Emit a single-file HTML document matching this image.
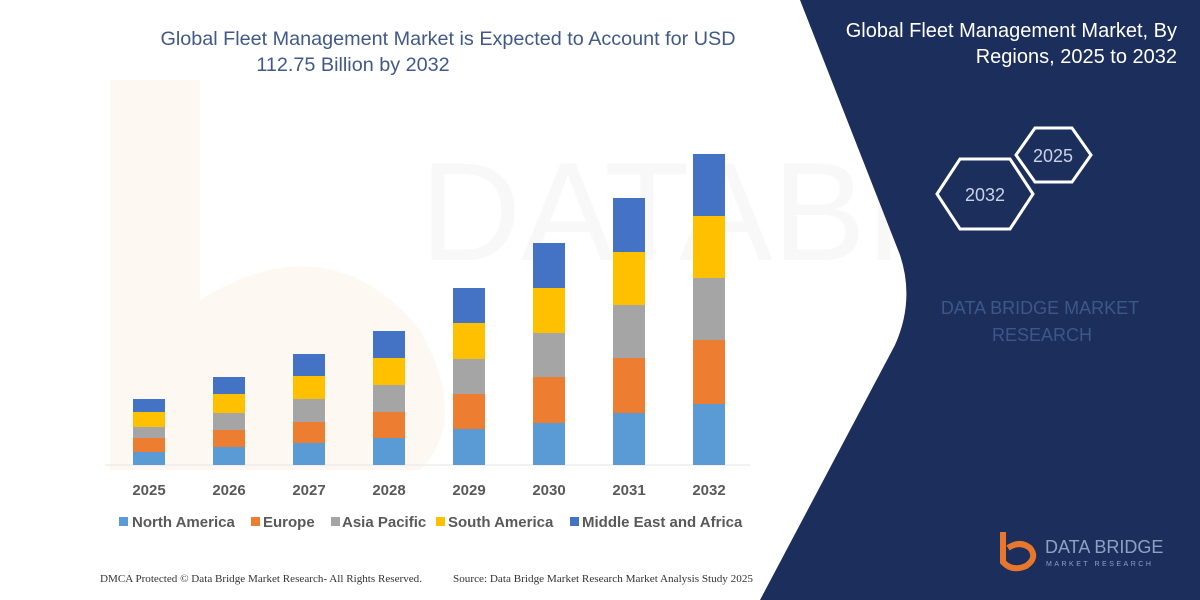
<!DOCTYPE html>
<html><head><meta charset="utf-8"><style>
html,body{margin:0;padding:0;width:1200px;height:600px;overflow:hidden;background:#fff}
svg{display:block}
</style></head><body>
<svg width="1200" height="600" viewBox="0 0 1200 600" xmlns="http://www.w3.org/2000/svg" font-family="'Liberation Sans',sans-serif">
<rect width="1200" height="600" fill="#fff"/>
<!-- faint watermark -->
<path d="M110 80 L200 80 L200 300 Q330 220 420 330 Q470 420 420 470 L110 470 Z" fill="#fef8f3"/>
<text x="420" y="260" font-size="140" fill="#f8f8f8" font-family="'Liberation Sans Narrow','Liberation Sans',sans-serif">DATABRIDGE</text>
<!-- navy panel -->
<path d="M800 0 L1200 0 L1200 600 L760 600 L895 345 Q915 300 900 255 Z" fill="#1c2e5c"/>
<text x="1040" y="314" font-size="18" fill="#3d5788" text-anchor="middle">DATA BRIDGE MARKET</text>
<text x="1042" y="341" font-size="18" fill="#3d5788" text-anchor="middle">RESEARCH</text>
<!-- title -->
<text x="448" y="45" font-size="19.8" fill="#40598a" text-anchor="middle">Global Fleet Management Market is Expected to Account for USD</text>
<text x="353" y="71" font-size="19.8" fill="#40598a" text-anchor="middle">112.75 Billion by 2032</text>
<text x="1177" y="37" font-size="20" fill="#ffffff" text-anchor="end">Global Fleet Management Market, By</text>
<text x="1177" y="63" font-size="20" fill="#ffffff" text-anchor="end">Regions, 2025 to 2032</text>
<!-- hexagons -->
<polygon points="937,194 960,159 1010,159 1033,194 1010,229 960,229" fill="none" stroke="#fff" stroke-width="3"/>
<polygon points="1016,155 1035,128 1072,128 1091,155 1072,182 1035,182" fill="none" stroke="#fff" stroke-width="3"/>
<text x="985" y="201" font-size="18" fill="#c8d2e8" text-anchor="middle">2032</text>
<text x="1053" y="162" font-size="18" fill="#c8d2e8" text-anchor="middle">2025</text>
<!-- logo -->
<path d="M1003 532 L1003 562 Q1012 572 1026 566 Q1038 558 1030 548 Q1020 540 1008 548" fill="none" stroke="#e8772e" stroke-width="6"/>
<text x="1045" y="553" font-size="18" fill="#8ea0c4">DATA BRIDGE</text>
<text x="1046" y="566" font-size="7" fill="#8ea0c4" letter-spacing="2.5">MARKET RESEARCH</text>
<!-- baseline -->
<line x1="105" y1="465" x2="750" y2="465" stroke="#e6e6e6" stroke-width="1"/>
<g>
<rect x="133" y="452" width="32" height="13" fill="#5b9bd5"/><rect x="133" y="438" width="32" height="14" fill="#ed7d31"/><rect x="133" y="427" width="32" height="11" fill="#a5a5a5"/><rect x="133" y="412" width="32" height="15" fill="#ffc000"/><rect x="133" y="399" width="32" height="13" fill="#4472c4"/>
<rect x="213" y="447" width="32" height="18" fill="#5b9bd5"/><rect x="213" y="430" width="32" height="17" fill="#ed7d31"/><rect x="213" y="413" width="32" height="17" fill="#a5a5a5"/><rect x="213" y="394" width="32" height="19" fill="#ffc000"/><rect x="213" y="377" width="32" height="17" fill="#4472c4"/>
<rect x="293" y="443" width="32" height="22" fill="#5b9bd5"/><rect x="293" y="422" width="32" height="21" fill="#ed7d31"/><rect x="293" y="399" width="32" height="23" fill="#a5a5a5"/><rect x="293" y="376" width="32" height="23" fill="#ffc000"/><rect x="293" y="354" width="32" height="22" fill="#4472c4"/>
<rect x="373" y="438" width="32" height="27" fill="#5b9bd5"/><rect x="373" y="412" width="32" height="26" fill="#ed7d31"/><rect x="373" y="385" width="32" height="27" fill="#a5a5a5"/><rect x="373" y="358" width="32" height="27" fill="#ffc000"/><rect x="373" y="331" width="32" height="27" fill="#4472c4"/>
<rect x="453" y="429" width="32" height="36" fill="#5b9bd5"/><rect x="453" y="394" width="32" height="35" fill="#ed7d31"/><rect x="453" y="359" width="32" height="35" fill="#a5a5a5"/><rect x="453" y="323" width="32" height="36" fill="#ffc000"/><rect x="453" y="288" width="32" height="35" fill="#4472c4"/>
<rect x="533" y="423" width="32" height="42" fill="#5b9bd5"/><rect x="533" y="377" width="32" height="46" fill="#ed7d31"/><rect x="533" y="333" width="32" height="44" fill="#a5a5a5"/><rect x="533" y="288" width="32" height="45" fill="#ffc000"/><rect x="533" y="243" width="32" height="45" fill="#4472c4"/>
<rect x="613" y="413" width="32" height="52" fill="#5b9bd5"/><rect x="613" y="358" width="32" height="55" fill="#ed7d31"/><rect x="613" y="305" width="32" height="53" fill="#a5a5a5"/><rect x="613" y="252" width="32" height="53" fill="#ffc000"/><rect x="613" y="198" width="32" height="54" fill="#4472c4"/>
<rect x="693" y="404" width="32" height="61" fill="#5b9bd5"/><rect x="693" y="340" width="32" height="64" fill="#ed7d31"/><rect x="693" y="278" width="32" height="62" fill="#a5a5a5"/><rect x="693" y="216" width="32" height="62" fill="#ffc000"/><rect x="693" y="154" width="32" height="62" fill="#4472c4"/>
</g>
<!-- year labels -->
<g font-size="15" font-weight="bold" fill="#595959" text-anchor="middle">
<text x="149" y="495">2025</text><text x="229" y="495">2026</text><text x="309" y="495">2027</text><text x="389" y="495">2028</text>
<text x="469" y="495">2029</text><text x="549" y="495">2030</text><text x="629" y="495">2031</text><text x="709" y="495">2032</text>
</g>
<!-- legend -->
<g font-size="15" font-weight="bold" fill="#595959">
<rect x="119" y="517" width="9" height="9" fill="#5b9bd5"/><text x="132" y="527">North America</text>
<rect x="251" y="517" width="9" height="9" fill="#ed7d31"/><text x="263" y="527">Europe</text>
<rect x="331" y="517" width="9" height="9" fill="#a5a5a5"/><text x="342" y="527">Asia Pacific</text>
<rect x="436" y="517" width="9" height="9" fill="#ffc000"/><text x="448" y="527">South America</text>
<rect x="570" y="517" width="9" height="9" fill="#4472c4"/><text x="582" y="527">Middle East and Africa</text>
</g>
<!-- footer -->
<g font-family="'Liberation Serif',serif" font-size="10.5" fill="#333">
<text x="100" y="582" textLength="322" lengthAdjust="spacingAndGlyphs">DMCA Protected © Data Bridge Market Research- All Rights Reserved.</text>
<text x="453" y="582" textLength="300" lengthAdjust="spacingAndGlyphs">Source: Data Bridge Market Research Market Analysis Study 2025</text>
</g>
</svg>
</body></html>
